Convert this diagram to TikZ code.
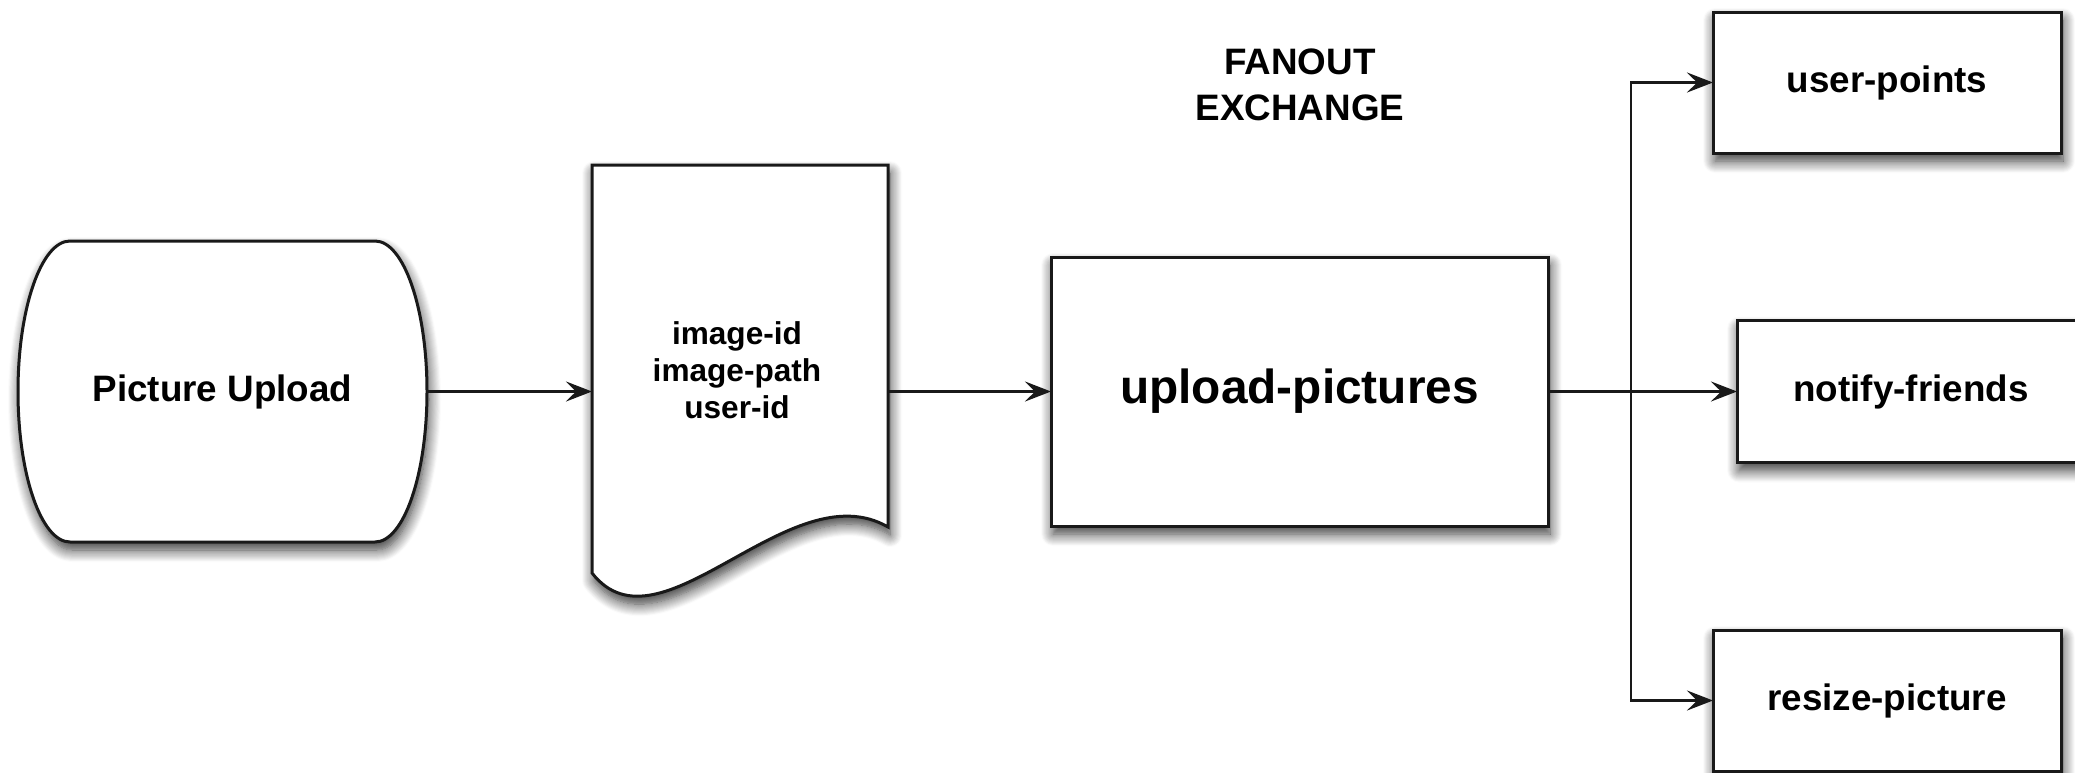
\documentclass[tikz,border=0pt]{standalone}
\usepackage{fontspec}
\setmainfont{Liberation Sans}
\usetikzlibrary{arrows.meta,backgrounds,shadows.blur}

\tikzset{
  outline/.style={draw=black!90, line width=1.5pt, fill=white,
    blur shadow={shadow xshift=1pt, shadow yshift=-4pt,
                 shadow blur radius=6pt, shadow blur steps=12, shadow opacity=80}},
  frame/.style={inner sep=0pt, outer sep=0pt},
  box/.style={outline, frame, font=\bfseries\fontsize{18.4pt}{22pt}\selectfont},
  conn/.style={draw=black!90, line width=1.2pt, -{Stealth[length=13pt, width=10pt, inset=5pt]}}
}

\begin{document}
\begin{tikzpicture}[x=0.5pt, y=-0.5pt]
  \useasboundingbox (0,0) rectangle (2075,772);
  \clip (0,0) rectangle (2075,772);

  % source terminal with bulging sides
  \node[frame, minimum width=204.5pt, minimum height=150.5pt,
        font=\bfseries\fontsize{18.4pt}{22pt}\selectfont] (upl) at (222.5,391.5) {Picture Upload};

  % message document
  \node[frame, minimum width=148pt, minimum height=150pt] (doc) at (740,391.5) {};
  \node[frame, align=center, font=\bfseries\fontsize{15.8pt}{18.5pt}\selectfont]
       (docTxt) at (737,370) {image-id\\image-path\\user-id};

  % exchange and queues
  \node[box, minimum width=248.5pt, minimum height=134.5pt,
        font=\bfseries\fontsize{23.9pt}{28pt}\selectfont] (pub) at (1299.5,391.5) {upload-pictures};
  \node[box, minimum width=174pt, minimum height=70.5pt] (up) at (1887,82.5) {user-points};
  \node[box, minimum width=174pt, minimum height=71pt] (nf) at (1911,391.5) {notify-friends};
  \node[box, minimum width=174pt, minimum height=70.5pt] (rp) at (1887,700.5) {resize-picture};

  \node[frame, align=center, font=\bfseries\fontsize{18.4pt}{23pt}\selectfont]
       (fx) at (1300,85) {FANOUT\\EXCHANGE};

  \begin{pgfonlayer}{background}
    \path[outline]
      ([xshift=26pt]upl.north west) -- ([xshift=-26pt]upl.north east)
      arc[start angle=90, end angle=-90, x radius=26pt, y radius=75.25pt]
      -- ([xshift=26pt]upl.south west)
      arc[start angle=270, end angle=90, x radius=26pt, y radius=75.25pt]
      -- cycle;
    \path[outline]
      (592,165) -- (888,165) -- (888,527)
      .. controls (790,470) and (660,660) .. (592,573) -- cycle;
  \end{pgfonlayer}

  % connectors
  \coordinate (fan) at (1631,391.5);
  \draw[conn] (upl.east) -- (doc.west);
  \draw[conn] (doc.east) -- (pub.west);
  \draw[conn] (pub.east) -- (nf.west);
  \draw[conn] (fan) |- (up.west);
  \draw[conn] (fan) |- (rp.west);
\end{tikzpicture}
\end{document}
